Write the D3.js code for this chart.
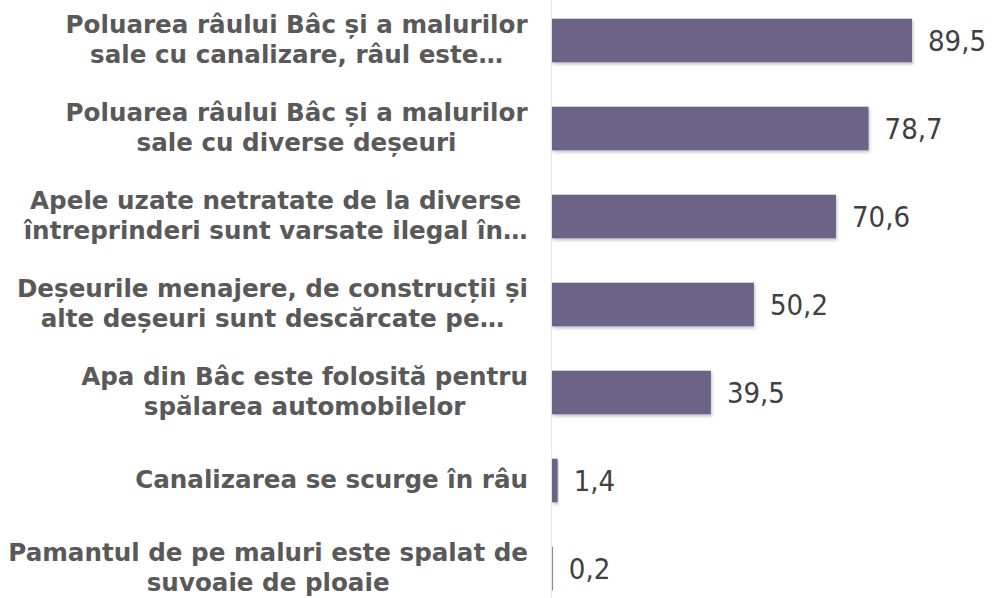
<!DOCTYPE html>
<html>
<head>
<meta charset="utf-8">
<script src="https://cdn.jsdelivr.net/npm/d3@7"></script>
<style>
  body { margin: 0; background: #fff; }
  svg { display: block; }
</style>
</head>
<body>
<svg id="chart" width="994" height="598"></svg>
<script>
// categories (line breaks as in the original labels)
const categories = [
    'Poluarea râului Bâc și a malurilor\nsale cu canalizare, râul este…',
    'Poluarea râului Bâc și a malurilor\nsale cu diverse deșeuri',
    'Apele uzate netratate de la diverse\nîntreprinderi sunt varsate ilegal în…',
    'Deșeurile menajere, de construcții și\nalte deșeuri sunt descărcate pe…',
    'Apa din Bâc este folosită pentru\nspălarea automobilelor',
    'Canalizarea se scurge în râu',
    'Pamantul de pe maluri este spalat de\nsuvoaie de ploaie'
];
const values = [89.5, 78.7, 70.6, 50.2, 39.5, 1.4, 0.2];
const valueLabels = ['89,5', '78,7', '70,6', '50,2', '39,5', '1,4', '0,2'];

const svg = d3.select('#chart');

const x = d3.scaleLinear().domain([0, 89.5]).range([552, 912]);
const y = d3.scaleBand()
    .domain(categories)
    .range([-3.5, 612.5])
    .paddingInner(0.505)
    .paddingOuter(0.2525);

// drop shadow under the bars
const defs = svg.append('defs');
defs.append('filter')
    .attr('id', 'shadow')
    .attr('x', '-5%').attr('y', '-20%')
    .attr('width', '115%').attr('height', '160%')
    .append('feDropShadow')
    .attr('dx', 1).attr('dy', 2)
    .attr('stdDeviation', 1.5)
    .attr('flood-color', '#000')
    .attr('flood-opacity', 0.25);

// category axis line
svg.append('line')
    .attr('x1', x(0) - 0.5).attr('x2', x(0) - 0.5)
    .attr('y1', 0).attr('y2', 598)
    .attr('stroke', '#e8e8e8')
    .attr('stroke-width', 1);

// bars
svg.selectAll('rect.bar')
    .data(values)
    .join('rect')
    .attr('class', 'bar')
    .attr('x', x(0))
    .attr('y', (d, i) => y(categories[i]))
    .attr('width', d => x(d) - x(0))
    .attr('height', y.bandwidth())
    .attr('fill', '#6c6487')
    .attr('filter', d => d > 1 ? 'url(#shadow)' : null);

// value labels
svg.selectAll('text.value')
    .data(values)
    .join('text')
    .attr('class', 'value')
    .attr('x', d => x(d) + 16)
    .attr('y', (d, i) => y(categories[i]) + y.bandwidth() / 2 + 10)
    .attr('font-family', '"DejaVu Sans Condensed", "DejaVu Sans", sans-serif')
    .attr('font-size', 29)
    .attr('fill', '#404040')
    .text((d, i) => valueLabels[i]);

// category labels: centered lines, block right-aligned
const lineH = 30;
const labelG = svg.selectAll('g.label')
    .data(categories)
    .join('g')
    .attr('class', 'label');

labelG.each(function (c) {
    const g = d3.select(this);
    const lines = c.split('\n');
    const cy = y(c) + y.bandwidth() / 2;
    const t = g.append('text')
        .attr('font-family', '"DejaVu Sans", sans-serif')
        .attr('font-weight', 'bold')
        .attr('font-size', 24.6)
        .attr('fill', '#595959')
        .attr('text-anchor', 'middle');
    lines.forEach((l, j) => {
        t.append('tspan')
            .attr('x', 0)
            .attr('y', cy + (j - (lines.length - 1) / 2) * lineH + 7)
            .text(l);
    });
    const w = t.node().getBBox().width;
    t.attr('transform', `translate(${528 - w / 2},0)`);
});
</script>
</body>
</html>
